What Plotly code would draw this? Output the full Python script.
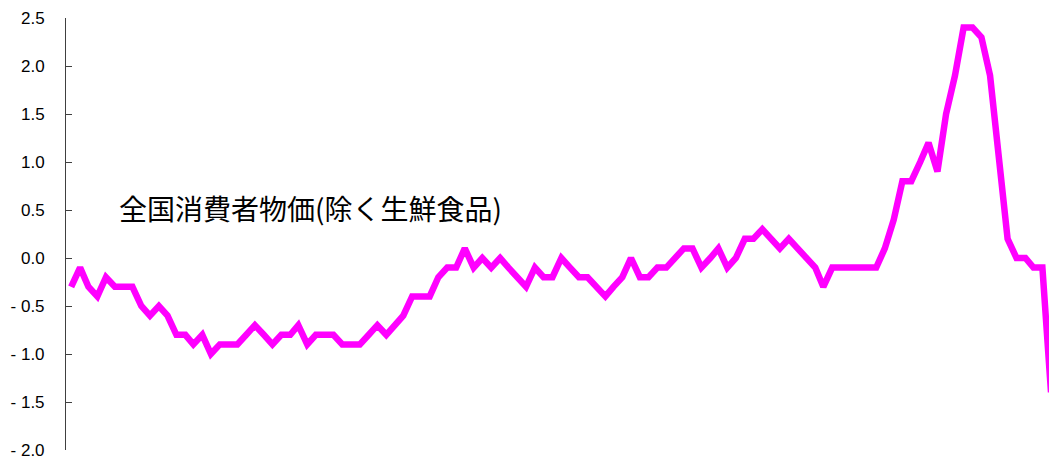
import pandas as pd
import plotly.graph_objects as go

# 全国消費者物価(除く生鮮食品) 前年比, monthly from Jan 2000
start_month = "2000-01-01"
cpi_core_yoy = [
    -0.3, -0.1, -0.3, -0.4, -0.2, -0.3, -0.3, -0.3, -0.5, -0.6, -0.5, -0.6,   # 2000
    -0.8, -0.8, -0.9, -0.8, -1.0, -0.9, -0.9, -0.9, -0.8, -0.7, -0.8, -0.9,   # 2001
    -0.8, -0.8, -0.7, -0.9, -0.8, -0.8, -0.8, -0.9, -0.9, -0.9, -0.8, -0.7,   # 2002
    -0.8, -0.7, -0.6, -0.4, -0.4, -0.4, -0.2, -0.1, -0.1, 0.1, -0.1, 0.0,     # 2003
    -0.1, 0.0, -0.1, -0.2, -0.3, -0.1, -0.2, -0.2, 0.0, -0.1, -0.2, -0.2,     # 2004
    -0.3, -0.4, -0.3, -0.2, 0.0, -0.2, -0.2, -0.1, -0.1, 0.0, 0.1, 0.1,       # 2005
    -0.1, 0.0, 0.1, -0.1, 0.0, 0.2, 0.2, 0.3, 0.2, 0.1, 0.2, 0.1,             # 2006
    0.0, -0.1, -0.3, -0.1, -0.1, -0.1, -0.1, -0.1, -0.1, 0.1, 0.4, 0.8,       # 2007
    0.8, 1.0, 1.2, 0.9, 1.5, 1.9, 2.4, 2.4, 2.3, 1.9, 1.0, 0.2,               # 2008
    0.0, 0.0, -0.1, -0.1, -1.4,                                               # 2009
]
months = pd.date_range(start_month, periods=len(cpi_core_yoy), freq="MS")

y_ticks = [2.5, 2.0, 1.5, 1.0, 0.5, 0.0, -0.5, -1.0, -1.5, -2.0]
y_tick_text = ["2.5", "2.0", "1.5", "1.0", "0.5", "0.0", "- 0.5", "- 1.0", "- 1.5", "- 2.0"]
series_label = "全国消費者物価(除く生鮮食品)"

fig = go.Figure()
fig.add_trace(go.Scatter(
    x=months,
    y=cpi_core_yoy,
    mode="lines",
    line=dict(color="#FF00FF", width=6.5),
    name=series_label,
    hoverinfo="x+y",
))

fig.add_annotation(
    text=series_label,
    xref="paper", yref="y",
    x=0.052, y=0.52,
    xanchor="left", yanchor="middle",
    showarrow=False,
    font=dict(family="Noto Sans CJK JP", size=28, color="#000000"),
)

fig.update_layout(
    width=1049, height=466,
    margin=dict(l=66, r=0, t=18, b=16),
    paper_bgcolor="white",
    plot_bgcolor="white",
    showlegend=False,
    font=dict(family="Liberation Sans, Arial, sans-serif", size=17, color="#000000"),
)

fig.update_xaxes(
    range=["1999-12-14", "2009-04-24"],
    showline=False, showgrid=False, zeroline=False,
    showticklabels=False, ticks="",
)

fig.update_yaxes(
    range=[-2.0, 2.5],
    tickvals=y_ticks,
    ticktext=y_tick_text,
    showline=True, linecolor="#404040", linewidth=1,
    ticks="inside", ticklen=6, tickcolor="#404040", tickwidth=1,
    ticklabelstandoff=17,
    showgrid=False, zeroline=False,
    tickfont=dict(family="Liberation Sans, Arial, sans-serif", size=17, color="#000000"),
)

fig.write_html("out.html")
